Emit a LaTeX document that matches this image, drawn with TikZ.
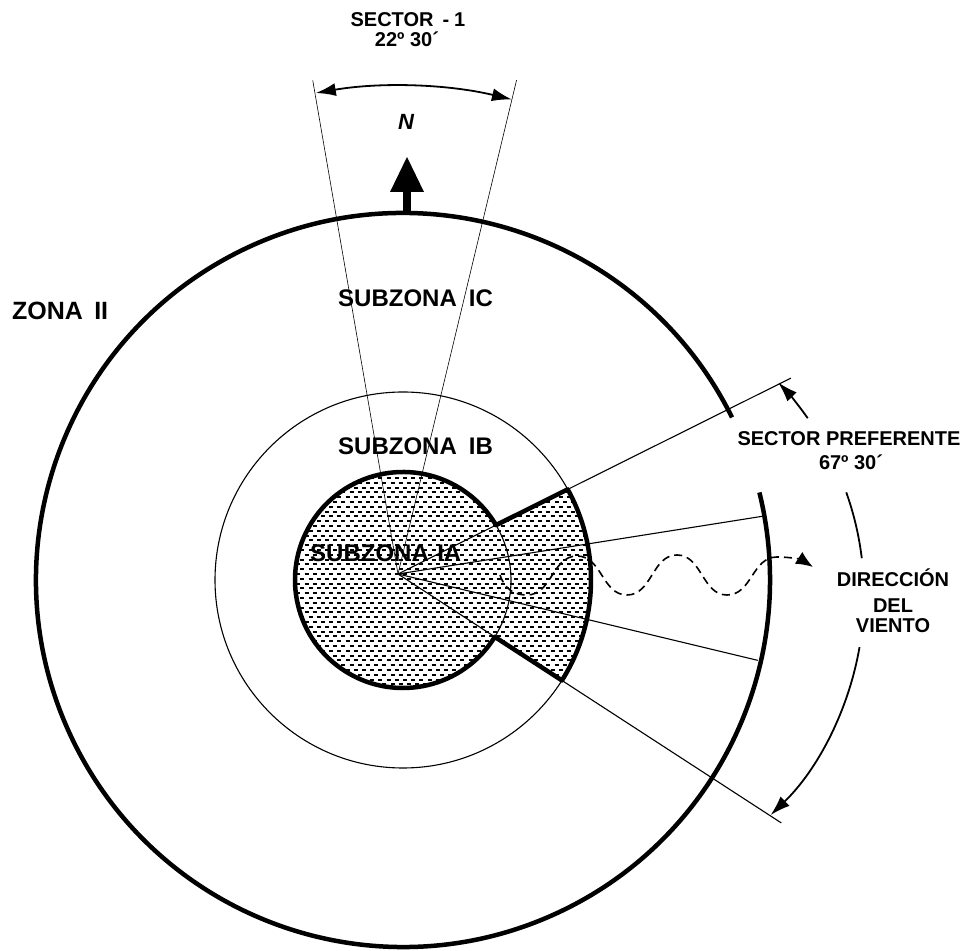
\documentclass[tikz,border=0pt]{standalone}
\usepackage{fontspec}
\setmainfont{Liberation Sans}
\usetikzlibrary{arrows.meta}
\begin{document}
\begin{tikzpicture}[x=1pt,y=1pt,
  thickline/.style={line width=4.5pt},
  thinline/.style={line width=1.1pt},
  hairline/.style={line width=0.6pt},
  arcline/.style={line width=1.8pt},
  patline/.style={line width=2.0pt, dash pattern=on 4pt off 4.2pt},
  lab/.style={font=\bfseries\fontsize{20}{24}\selectfont, inner sep=0pt},
  bigl/.style={font=\bfseries\fontsize{24}{28}\selectfont, inner sep=0pt},
  zonal/.style={font=\bfseries\fontsize{25}{30}\selectfont, inner sep=0pt},
  tipend/.style={-{Latex[length=20pt,width=13pt]}},
]
\useasboundingbox (0,0) rectangle (966,950);
% centres
\coordinate (C) at (403,370);
\coordinate (A) at (398,376);
\coordinate (Q) at (558,355);
% wedge corners
\coordinate (P1) at ([shift={(30.55:108pt)}]C);
\coordinate (P2) at ([shift={(28.82:188pt)}]C);
\coordinate (P3) at ([shift={(-31.79:108pt)}]C);
\coordinate (P4) at ([shift={(-32.29:188pt)}]C);
% ray end points
\coordinate (S1L) at ([shift={(99.8:501pt)}]A);
\coordinate (S1R) at ([shift={(76.5:508pt)}]A);
\coordinate (E1) at ([shift={(26.5:439pt)}]A);
\coordinate (E2) at ([shift={(-33:457pt)}]A);
\coordinate (E3) at ([shift={(9:370pt)}]A);
\coordinate (E4) at ([shift={(-13.5:370pt)}]A);
% arc starts
\coordinate (O1) at ([shift={(26.3:367pt)}]C);
\coordinate (T1) at ([shift={(99.7:488pt)}]A);
\coordinate (Q1) at ([shift={(35.3:306pt)}]Q);
\coordinate (Q2) at ([shift={(19.6:306pt)}]Q);
\coordinate (Q3) at ([shift={(-9.8:306pt)}]Q);

% shading pattern
\begin{scope}
  \clip (P1) -- (P2) arc[start angle=28.82, end angle=-32.29, radius=188pt]
        -- (P3) arc[start angle=-31.79, end angle=-329.45, radius=108pt] -- cycle;
  \foreach \i in {0,...,49} {
    \pgfmathsetmacro\yy{256+4.8*\i}
    \pgfmathsetmacro\xx{284+mod(\i,2)*4.1}
    \draw[patline] (\xx,\yy) -- (610,\yy);
  }
\end{scope}

% thin lines
\draw[hairline] (A) -- (S1L);
\draw[hairline] (A) -- (S1R);
\draw[thinline] (A) -- (E1);
\draw[thinline] (A) -- (E2);
\draw[thinline] (A) -- (E3);
\draw[thinline] (A) -- (E4);
\draw[thinline] (C) circle[radius=188pt];
\draw[thinline] (P3) arc[start angle=-31.79, end angle=30.55, radius=108pt];

% thick outline of subzona IA and preferred sector
\draw[thickline, line join=round] (P1) -- (P2) arc[start angle=28.82, end angle=-32.29, radius=188pt]
      -- (P3) arc[start angle=-31.79, end angle=-329.45, radius=108pt] -- cycle;

% outer circle with gap
\draw[thickline] (O1) arc[start angle=26.3, end angle=373.8, radius=367pt];

% sector 1 arc
\draw[arcline, {Latex[length=20pt,width=13pt]}-{Latex[length=20pt,width=13pt]}]
  (T1) arc[start angle=99.7, end angle=76.5, radius=488pt];

% sector preferente arc
\draw[arcline, tipend] (Q1) arc[start angle=35.3, end angle=44, radius=306pt];
\draw[arcline] (Q2) arc[start angle=19.6, end angle=6.9, radius=306pt];
\draw[arcline, tipend] (Q3) arc[start angle=-9.8, end angle=-46, radius=306pt];

% north arrow
\fill (403,736) rectangle (411,760);
\fill (390,758) -- (407,793) -- (424,758) -- cycle;

% wind direction
\coordinate (W0) at (500,375);
\coordinate (W1) at (813,383);
\draw[line width=1.6pt, dash pattern=on 8pt off 5pt, -{Latex[length=17pt,width=14pt]}]
  (W0) .. controls (505,360) and (515,355) .. (527,355)
       .. controls (552,355) and (552,394) .. (577,394)
       .. controls (602,394) and (602,355) .. (627,355)
       .. controls (652,355) and (652,395) .. (677,395)
       .. controls (702,395) and (702,355) .. (727,355)
       .. controls (752,355) and (752,393) .. (777,393)
       .. controls (792,393) and (802,390) .. (W1);

% labels
\node[lab, anchor=base] (sec1) at (408,923) {SECTOR\hspace{0.45em}-\hspace{0.25em}1};
\node[lab, anchor=base] (ang1) at (407,903) {22º 30´};
\node[font=\bfseries\itshape\fontsize{22}{26}\selectfont, inner sep=0pt, anchor=base] (north) at (406,820) {N};
\node[zonal, anchor=base west] (z2) at (12,630) {ZONA\hspace{0.45em}II};
\node[bigl, anchor=base west] (zic) at (338,643) {SUBZONA\hspace{0.5em}IC};
\node[bigl, anchor=base west] (zib) at (338,495) {SUBZONA\hspace{0.5em}IB};
\node[bigl, anchor=base west] (zia) at (310,388) {SUBZONA\hspace{0.35em}IA};
\node[lab, anchor=base] (secp) at (849,504) {SECTOR PREFERENTE};
\node[lab, anchor=base] (ang2) at (851,480) {67º 30´};
\node[lab, anchor=base] (dir1) at (893,363) {DIRECCIÓN};
\node[lab, anchor=base] (dir2) at (893,337) {DEL};
\node[lab, anchor=base] (dir3) at (893,317) {VIENTO};
\end{tikzpicture}
\end{document}
